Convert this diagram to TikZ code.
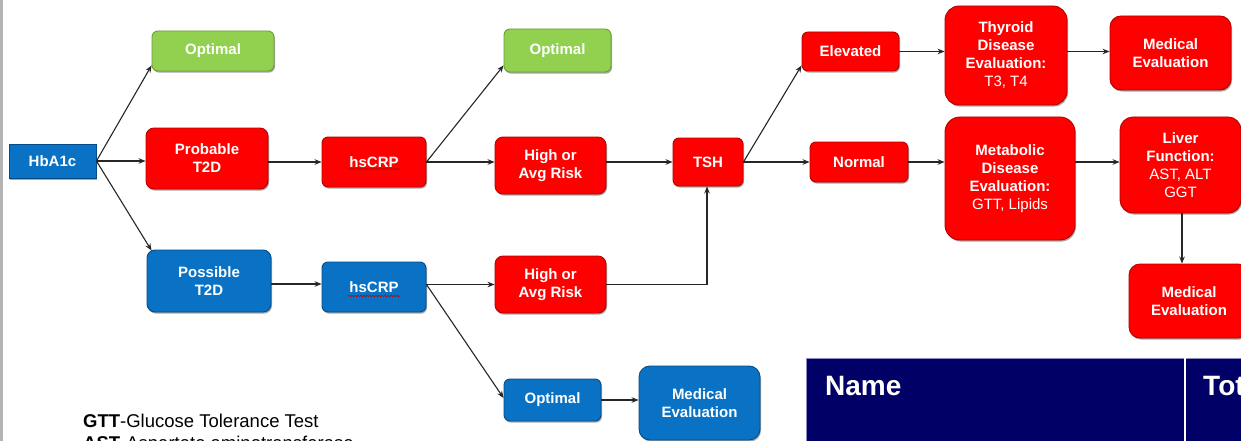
\documentclass[tikz,border=0pt]{standalone}
\usepackage{fontspec}
\setmainfont{Liberation Sans}
\usetikzlibrary{arrows.meta,calc,shadows,decorations.pathmorphing}

\definecolor{boxred}{HTML}{FF0000}
\definecolor{boxrededge}{HTML}{B80000}
\definecolor{boxblue}{HTML}{0A72C4}
\definecolor{boxblueedge}{HTML}{044C88}
\definecolor{boxgreen}{HTML}{92D050}
\definecolor{boxgreenedge}{HTML}{6A9E3A}
\definecolor{tablenavy}{HTML}{000066}
\definecolor{tableedge}{HTML}{8C8CC0}
\definecolor{pageedge}{HTML}{B4B4B4}

\newcommand{\boxfont}{\fontsize{15}{18}\selectfont\bfseries}

\tikzset{
  flowbox/.style={rectangle, rounded corners=6pt, inner sep=0pt, align=center,
    text=white, font=\boxfont, line width=0.9pt,
    drop shadow={shadow xshift=1pt, shadow yshift=-1.6pt, opacity=0.35, fill=black}},
  redbox/.style={flowbox, fill=boxred, draw=boxrededge},
  bluebox/.style={flowbox, fill=boxblue, draw=boxblueedge},
  greenbox/.style={flowbox, fill=boxgreen, draw=boxgreenedge},
  sz/.style 2 args={minimum width=#1pt, minimum height=#2pt},
  arr/.style={-{Stealth[length=7pt,width=5.5pt]}, line width=1.1pt, draw=black!85},
  squiggle/.style={draw=red!75!black, line width=0.6pt,
    decorate, decoration={snake, amplitude=0.7pt, segment length=3pt}},
  legend/.style={anchor=base west, inner sep=0pt, font=\fontsize{18.5}{22}\selectfont, text=black}
}

\begin{document}
\begin{tikzpicture}[x=1pt, y=-1pt]
\useasboundingbox (0,0) rectangle (1241,441);
\clip (0,0) rectangle (1241,441);
\fill[white] (0,0) rectangle (1241,441);
\fill[pageedge] (0,0) rectangle (3,441);

% ---- flow boxes ----
\node[bluebox, rounded corners=0pt, sz={87}{34}] (hba) at (52.5,161) {HbA1c};
\node[greenbox, sz={122}{40}] (opt1) at (213,51) {Optimal};
\node[redbox, sz={122}{61}, rounded corners=8pt] (prob) at (207,158.5) {Probable\\T2D};
\node[redbox, sz={104}{50}] (crp1) at (374,162) {hsCRP};
\node[greenbox, sz={107}{43}] (opt2) at (557.5,50.5) {Optimal};
\node[redbox, sz={111}{57}, rounded corners=8pt] (high1) at (550.5,165.5) {High or\\Avg Risk};
\node[redbox, sz={70}{48}] (tsh) at (708,162) {TSH};
\node[redbox, sz={97}{39}] (elev) at (850.5,51.5) {Elevated};
\node[redbox, sz={122}{99}, rounded corners=14pt] (thy) at (1006,55.5)
  {Thyroid\\Disease\\Evaluation:\\{\mdseries T3, T4}};
\node[redbox, sz={121}{74}, rounded corners=11pt] (med1) at (1170.5,53) {Medical\\Evaluation};
\node[redbox, sz={98}{40}] (norm) at (859,162) {Normal};
\node[redbox, sz={130}{123}, rounded corners=15pt] (meta) at (1010,178.5)
  {Metabolic\\Disease\\Evaluation:\\{\mdseries GTT, Lipids}};
\node[redbox, sz={121}{96}, rounded corners=13pt] (liver) at (1180.5,165)
  {Liver\\Function:\\{\mdseries AST, ALT}\\{\mdseries GGT}};
\node[redbox, sz={120}{74}, rounded corners=11pt] (med2) at (1189,301) {Medical\\Evaluation};
\node[bluebox, sz={124}{62}, rounded corners=8pt] (poss) at (209,281) {Possible\\T2D};
\node[bluebox, sz={104}{50}] (crp2) at (374,287) {hsCRP};
\node[redbox, sz={111}{57}, rounded corners=8pt] (high2) at (550.5,284.5) {High or\\Avg Risk};
\node[bluebox, sz={97}{42}] (opt3) at (552.5,400) {Optimal};
\node[bluebox, sz={121}{74}, rounded corners=11pt] (med3) at (699.5,403) {Medical\\Evaluation};

% spelling marks under the hsCRP labels
\draw[squiggle] ($(crp1.center)+(-26,7)$) -- ($(crp1.center)+(26,7)$);
\draw[squiggle] ($(crp2.center)+(-26,9)$) -- ($(crp2.center)+(26,9)$);

% ---- connectors ----
\draw[arr] (hba.east) -- ($(opt1.south west)+(0,-6)$);
\draw[arr] (hba.east) -- (hba.east -| prob.west);
\draw[arr] (hba.east) -- ($(poss.north west)+(5,1)$);
\draw[arr] (prob.east |- crp1.west) -- (crp1.west);
\draw[arr] (crp1.east) -- ($(opt2.south west)+(0,-7)$);
\draw[arr] (crp1.east) -- (crp1.east -| high1.west);
\draw[arr] (tsh.west -| high1.east) -- (tsh.west);
\draw[arr] (tsh.east) -- ($(elev.south west)+(0,-6)$);
\draw[arr] (tsh.east) -- (tsh.east -| norm.west);
\draw[arr] (elev.east) -- (elev.east -| thy.west);
\draw[arr] (thy.east |- elev.east) -- (elev.east -| med1.west);
\draw[arr] (norm.east) -- (norm.east -| meta.west);
\draw[arr] (norm.east -| meta.east) -- (norm.east -| liver.west);
\draw[arr] ($(liver.south)+(1.5,0)$) -- ($(liver.south |- med2.north)+(1.5,0)$);
\draw[arr] ($(poss.east)+(0,3)$) -- ($(poss.east -| crp2.west)+(0,3)$);
\draw[arr] (high2.west -| crp2.east) -- (high2.west);
\draw[arr] (high2.west -| crp2.east) -- ($(opt3.west)+(0,-2)$);
\draw[arr] (high2.east) -- ($(high2.east -| tsh.south)+(-1,0)$) -- ($(tsh.south)+(-1,0)$);
\draw[arr] (opt3.east) -- (opt3.east -| med3.west);

% ---- table header ----
\fill[tablenavy] (806,358) rectangle (1245,445);
\draw[tableedge, line width=0.8pt] (806,445) -- (806,358) -- (1245,358);
\draw[white, line width=2pt] (1184.5,358) -- (1184.5,445);
\node[anchor=base west, inner sep=0pt, text=white, font=\fontsize{28}{32}\selectfont\bfseries]
  (hname) at (825,395) {Name};
\node[anchor=base west, inner sep=0pt, text=white, font=\fontsize{28}{32}\selectfont\bfseries]
  (htot) at (1203,395) {Tot};

% ---- abbreviations ----
\node[legend] (gtt) at (83,427) {\textbf{GTT}-Glucose Tolerance Test};
\node[legend] (ast) at (83,449) {\textbf{AST}-Aspartate aminotransferase};
\end{tikzpicture}
\end{document}
